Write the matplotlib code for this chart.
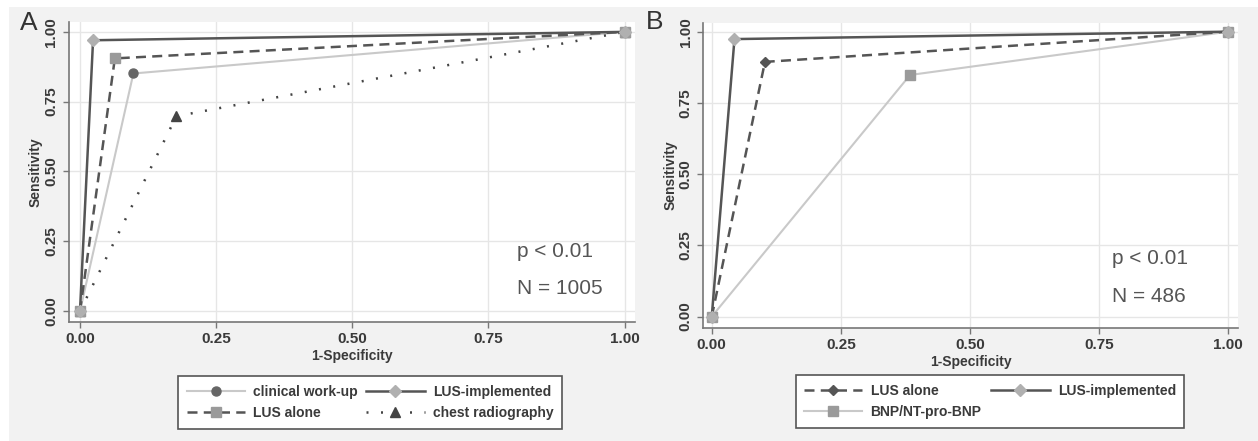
"""
plot.py

ROC comparison of diagnostic strategies (two panels, Stata-like look).
Panel A: clinical work-up / LUS / chest radiography, N = 1005
Panel B: LUS / BNP-NT-pro-BNP, N = 486
"""
import matplotlib
matplotlib.use("Agg")
import matplotlib.pyplot as plt
from matplotlib.patches import Rectangle

# ── data (1-specificity, sensitivity) ────────────────────────────────────────

a_clinical_x = [0.0, 0.098, 1.0]
a_clinical_y = [0.0, 0.851, 1.0]
a_lus_impl_x = [0.0, 0.024, 1.0]
a_lus_impl_y = [0.0, 0.970, 1.0]
a_lus_alone_x = [0.0, 0.064, 1.0]
a_lus_alone_y = [0.0, 0.905, 1.0]
a_chest_x = [0.0, 0.177, 1.0]
a_chest_y = [0.0, 0.698, 1.0]

b_lus_alone_x = [0.0, 0.103, 1.0]
b_lus_alone_y = [0.0, 0.894, 1.0]
b_lus_impl_x = [0.0, 0.044, 1.0]
b_lus_impl_y = [0.0, 0.974, 1.0]
b_bnp_x = [0.0, 0.384, 1.0]
b_bnp_y = [0.0, 0.848, 1.0]

ticks = [0.0, 0.25, 0.5, 0.75, 1.0]
tick_labels = ["0.00", "0.25", "0.50", "0.75", "1.00"]

# ── style ─────────────────────────────────────────────────────────────────────

plt.rcParams["font.family"] = ["Liberation Sans", "DejaVu Sans"]

BG = "#f2f2f2"
DARK = "#555555"
LIGHT = "#c9c9c9"
TXT = "#3a3a3a"


def style_axes(ax, xlim, ylim):
    ax.set_facecolor("white")
    ax.set_xlim(*xlim)
    ax.set_ylim(*ylim)
    ax.set_xticks(ticks)
    ax.set_xticklabels(tick_labels)
    ax.set_yticks(ticks)
    ax.set_yticklabels(tick_labels, rotation=90, va="center")
    ax.grid(True, color="#e6e6e6", lw=1.0)
    ax.set_axisbelow(True)
    for s in ("top", "right"):
        ax.spines[s].set_visible(False)
    for s in ("left", "bottom"):
        ax.spines[s].set_color("#777777")
        ax.spines[s].set_linewidth(1.2)
    ax.tick_params(colors="#777777", labelcolor=TXT, length=4, width=1.0,
                   labelsize=11)
    for lbl in ax.get_xticklabels() + ax.get_yticklabels():
        lbl.set_fontweight("bold")
    ax.set_xlabel("1-Specificity", fontsize=10, color=TXT, fontweight="bold",
                  labelpad=2)
    ax.set_ylabel("Sensitivity", fontsize=10, color=TXT, fontweight="bold",
                  labelpad=1)


fig = plt.figure(figsize=(12.58, 4.41), dpi=100, facecolor=BG)
# white margin strips at top and left of the scanned figure
fig.patches.append(Rectangle((0, 1 - 7 / 441), 1, 7 / 441, transform=fig.transFigure,
                             facecolor="white", edgecolor="none", zorder=0))
fig.patches.append(Rectangle((0, 0), 9 / 1258, 1, transform=fig.transFigure,
                             facecolor="white", edgecolor="none", zorder=0))

# ── panel A ───────────────────────────────────────────────────────────────────

axA = fig.add_axes([0.0545, 0.2705, 0.4502, 0.680])
style_axes(axA, (-0.021, 1.019), (-0.038, 1.036))

axA.plot(a_clinical_x, a_clinical_y, color=LIGHT, lw=1.5, marker="o", ms=6.5,
         mfc="#666666", mec="#666666", label="clinical work-up", zorder=3)
axA.plot(a_lus_alone_x, a_lus_alone_y, color=DARK, lw=1.8, ls=(0, (4, 2.5)),
         marker="s", ms=7, mfc="#9a9a9a", mec="#9a9a9a", label="LUS alone", zorder=4)
axA.plot(a_lus_impl_x, a_lus_impl_y, color=DARK, lw=1.8, marker="D", ms=6,
         mfc="#b0b0b0", mec="#b0b0b0", label="LUS-implemented", zorder=5)
axA.plot(a_chest_x, a_chest_y, color="#444444", lw=1.8, ls=(0, (0.8, 5)),
         marker="^", ms=7, mfc="#444444", mec="#444444",
         label="chest radiography", zorder=3)

axA.text(0.802, 0.215, "p < 0.01", fontsize=15, color="#555555", va="center")
axA.text(0.802, 0.08, "N = 1005", fontsize=15, color="#555555", va="center")
fig.text(20 / 1258, 1 - 23 / 441, "A", fontsize=19, color="#333333",
         va="center", ha="left")

handles, labels = axA.get_legend_handles_labels()
legA = fig.legend(handles, labels, loc="center", ncol=2,
                  bbox_to_anchor=(370 / 1258, 1 - 402.5 / 441),
                  bbox_transform=fig.transFigure, fontsize=10,
                  handlelength=4.2, columnspacing=0.6, labelspacing=0.55,
                  handletextpad=0.6, borderpad=0.6, fancybox=False,
                  framealpha=1, edgecolor="#555555")
legA.get_frame().set_linewidth(1.2)
for t in legA.get_texts():
    t.set_color(TXT)
    t.set_fontweight("bold")

# ── panel B ───────────────────────────────────────────────────────────────────

axB = fig.add_axes([0.5588, 0.2569, 0.4253, 0.690])
style_axes(axB, (-0.017, 1.019), (-0.039, 1.029))

axB.plot(b_bnp_x, b_bnp_y, color=LIGHT, lw=1.5, marker="s", ms=6.5,
         mfc="#9a9a9a", mec="#9a9a9a", label="BNP/NT-pro-BNP", zorder=3)
axB.plot(b_lus_alone_x, b_lus_alone_y, color=DARK, lw=1.8, ls=(0, (4, 2.5)),
         marker="D", ms=5, mfc="#555555", mec="#555555", label="LUS alone", zorder=4)
axB.plot(b_lus_impl_x, b_lus_impl_y, color=DARK, lw=1.8, marker="D", ms=6,
         mfc="#b0b0b0", mec="#b0b0b0", label="LUS-implemented", zorder=5)

axB.text(0.775, 0.205, "p < 0.01", fontsize=15, color="#555555", va="center")
axB.text(0.775, 0.07, "N = 486", fontsize=15, color="#555555", va="center")
fig.text(646 / 1258, 1 - 22 / 441, "B", fontsize=19, color="#333333",
         va="center", ha="left")

hb, lb = axB.get_legend_handles_labels()
order = [1, 0, 2]  # LUS alone, BNP (col 1) / LUS-implemented (col 2)
legB = fig.legend([hb[i] for i in order], [lb[i] for i in order], loc="center",
                  ncol=2, bbox_to_anchor=(990 / 1258, 1 - 401.5 / 441),
                  bbox_transform=fig.transFigure, fontsize=10,
                  handlelength=4.2, columnspacing=0.7, labelspacing=0.55,
                  handletextpad=0.6, borderpad=0.6, fancybox=False,
                  framealpha=1, edgecolor="#555555")
legB.get_frame().set_linewidth(1.2)
for t in legB.get_texts():
    t.set_color(TXT)
    t.set_fontweight("bold")

fig.savefig("out.png", dpi=100, facecolor=BG)
